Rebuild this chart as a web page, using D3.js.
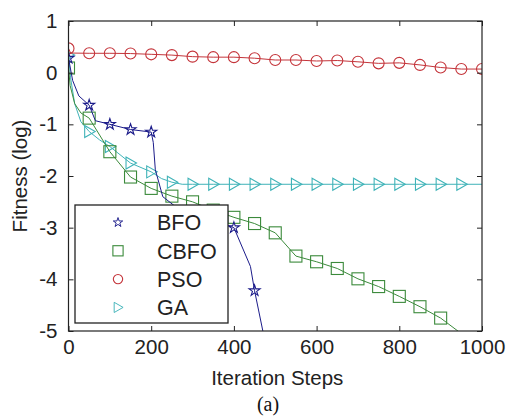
<!DOCTYPE html>
<html>
<head>
<meta charset="utf-8">
<script src="https://cdn.jsdelivr.net/npm/d3@7"></script>
<style>
  body { margin: 0; background: #fff; }
  text { font-family: "Liberation Sans", Arial, sans-serif; }
</style>
</head>
<body>
<div id="chart"></div>
<script>
// Data (x = iteration, y = log fitness)
const bfoSteps  = [0, 10, 25, 50, 65, 100, 150, 200, 205, 210, 228, 260, 300, 350, 400, 440, 450, 470];
const bfoValues = [0.28, -0.15, -0.45, -0.63, -0.93, -1.0, -1.1, -1.15, -1.35, -1.88, -2.4, -2.6, -2.72, -2.86, -3.0, -3.75, -4.22, -5.0];

const cbfoSteps  = [0, 4, 15, 30, 50, 100, 150, 200, 250, 300, 350, 400, 450, 500, 550, 600, 650, 700, 750, 800, 850, 900, 950];
const cbfoValues = [0.09, -0.25, -0.6, -0.78, -0.88, -1.53, -2.02, -2.24, -2.39, -2.5, -2.66, -2.8, -2.92, -3.1, -3.55, -3.66, -3.79, -3.99, -4.14, -4.33, -4.53, -4.75, -5.05];

const psoSteps  = [0, 5, 50, 100, 150, 200, 250, 300, 350, 400, 450, 500, 550, 600, 650, 700, 750, 800, 850, 900, 950, 1000];
const psoValues = [0.47, 0.38, 0.375, 0.375, 0.37, 0.355, 0.34, 0.31, 0.30, 0.30, 0.28, 0.245, 0.245, 0.226, 0.235, 0.21, 0.18, 0.19, 0.15, 0.10, 0.07, 0.07];

const gaSteps  = [0, 5, 15, 30, 50, 75, 100, 150, 200, 225, 250, 275, 300, 350, 400, 450, 500, 550, 600, 650, 700, 750, 800, 850, 900, 950, 1000];
const gaValues = [0.34, -0.1, -0.6, -0.95, -1.14, -1.3, -1.43, -1.75, -1.92, -2.05, -2.12, -2.16, -2.16, -2.16, -2.16, -2.16, -2.16, -2.16, -2.16, -2.16, -2.16, -2.16, -2.16, -2.16, -2.16, -2.16, -2.16];

const xTicks = [0, 200, 400, 600, 800, 1000];
const yTicks = [1, 0, -1, -2, -3, -4, -5];

const width = 507, height = 417;
const plot = { left: 68.5, right: 482, top: 21, bottom: 331 };

const x = d3.scaleLinear().domain([0, 1000]).range([plot.left, plot.right]);
const y = d3.scaleLinear().domain([-5, 1]).range([plot.bottom, plot.top]);

const svg = d3.select("#chart").append("svg")
  .attr("width", width).attr("height", height);

svg.append("defs").append("clipPath").attr("id", "plot-clip")
  .append("rect")
  .attr("x", plot.left).attr("y", plot.top)
  .attr("width", plot.right - plot.left).attr("height", plot.bottom - plot.top);

// marker shapes
const starPath = d3.symbol().type(d3.symbolStar).size(38)();
const trianglePath = "M-4.5,-6L6,0L-4.5,6Z";
function drawMarker(g, kind, color, scale) {
  const s = scale || 1;
  if (kind === "star") {
    g.append("path").attr("d", starPath).attr("transform", `scale(${s})`)
      .attr("fill", "none").attr("stroke", color).attr("stroke-width", 1.1);
  } else if (kind === "square") {
    g.append("rect").attr("x", -6 * s).attr("y", -6 * s).attr("width", 12 * s).attr("height", 12 * s)
      .attr("fill", "none").attr("stroke", color).attr("stroke-width", 1.1);
  } else if (kind === "circle") {
    g.append("circle").attr("r", 5.5 * s)
      .attr("fill", "none").attr("stroke", color).attr("stroke-width", 1.1);
  } else {
    g.append("path").attr("d", trianglePath).attr("transform", `scale(${s})`)
      .attr("fill", "none").attr("stroke", color).attr("stroke-width", 1.1);
  }
}

const series = [
  { name: "BFO",  steps: bfoSteps,  values: bfoValues,  color: "#1c1c8a", marker: "star",     lastMarker: 1000 },
  { name: "CBFO", steps: cbfoSteps, values: cbfoValues, color: "#3b8a3b", marker: "square",   lastMarker: 1000 },
  { name: "PSO",  steps: psoSteps,  values: psoValues,  color: "#c4343a", marker: "circle",   lastMarker: 1000 },
  { name: "GA",   steps: gaSteps,   values: gaValues,   color: "#3fb3b8", marker: "triangle", lastMarker: 950 }
];

const line = d3.line().x(d => x(d[0])).y(d => y(d[1]));

// Draw in reverse so BFO sits on top
series.slice().reverse().forEach(s => {
  const pts = s.steps.map((st, i) => [st, s.values[i]]);
  const g = svg.append("g").attr("clip-path", "url(#plot-clip)");
  g.append("path").datum(pts).attr("d", line)
    .attr("fill", "none").attr("stroke", s.color).attr("stroke-width", 1);
  pts.filter(p => p[0] % 50 === 0 && p[0] <= s.lastMarker && p[1] >= -5 && p[1] <= 1)
    .forEach(p => {
      const mg = g.append("g").attr("transform", `translate(${x(p[0])},${y(p[1])})`);
      drawMarker(mg, s.marker, s.color);
    });
});

// Axes with inward ticks (box style)
const axisColor = "#222";
const xAxis = svg.append("g").attr("transform", `translate(0,${plot.bottom})`)
  .call(d3.axisBottom(x).tickValues(xTicks).tickSize(-5).tickPadding(8).tickFormat(d => String(d)));
const yAxis = svg.append("g").attr("transform", `translate(${plot.left},0)`)
  .call(d3.axisLeft(y).tickValues(yTicks).tickSize(-5).tickPadding(11).tickFormat(d => String(d)));
const xTop = svg.append("g").attr("transform", `translate(0,${plot.top})`)
  .call(d3.axisTop(x).tickValues(xTicks).tickSize(-5).tickFormat(""));
const yRight = svg.append("g").attr("transform", `translate(${plot.right},0)`)
  .call(d3.axisRight(y).tickValues(yTicks).tickSize(-5).tickFormat(""));

[xAxis, yAxis, xTop, yRight].forEach(a => {
  a.select(".domain").remove();
  a.selectAll("line").attr("stroke", axisColor).attr("stroke-width", 1);
  a.selectAll("text").attr("font-size", 20.5).attr("fill", axisColor)
    .attr("font-family", "Liberation Sans, Arial, sans-serif");
});

svg.append("rect")
  .attr("x", plot.left).attr("y", plot.top)
  .attr("width", plot.right - plot.left).attr("height", plot.bottom - plot.top)
  .attr("fill", "none").attr("stroke", axisColor).attr("stroke-width", 1.2);

// Axis titles
svg.append("text")
  .attr("x", (plot.left + plot.right) / 2 + 2).attr("y", 385)
  .attr("text-anchor", "middle").attr("font-size", 20.5).attr("fill", axisColor)
  .text("Iteration Steps");

svg.append("text")
  .attr("transform", `translate(27,${(plot.top + plot.bottom) / 2}) rotate(-90)`)
  .attr("text-anchor", "middle").attr("font-size", 20.5).attr("fill", axisColor)
  .text("Fitness (log)");

svg.append("text")
  .attr("x", 268).attr("y", 411)
  .attr("text-anchor", "middle").attr("font-size", 20).attr("fill", "#111")
  .style("font-family", "Liberation Serif, Times New Roman, serif")
  .text("(a)");

// Legend
const legend = svg.append("g");
legend.append("rect")
  .attr("x", 75).attr("y", 205).attr("width", 153).attr("height", 118)
  .attr("fill", "#fff").attr("stroke", axisColor).attr("stroke-width", 1.3);

series.forEach((s, i) => {
  const ly = 222.5 + i * 28.3;
  const mg = legend.append("g").attr("transform", `translate(118,${ly})`);
  drawMarker(mg, s.marker, s.color, 0.85);
  legend.append("text")
    .attr("x", 157).attr("y", ly).attr("dy", "0.36em")
    .attr("font-size", 21.5).attr("fill", axisColor)
    .text(s.name);
});
</script>
</body>
</html>
